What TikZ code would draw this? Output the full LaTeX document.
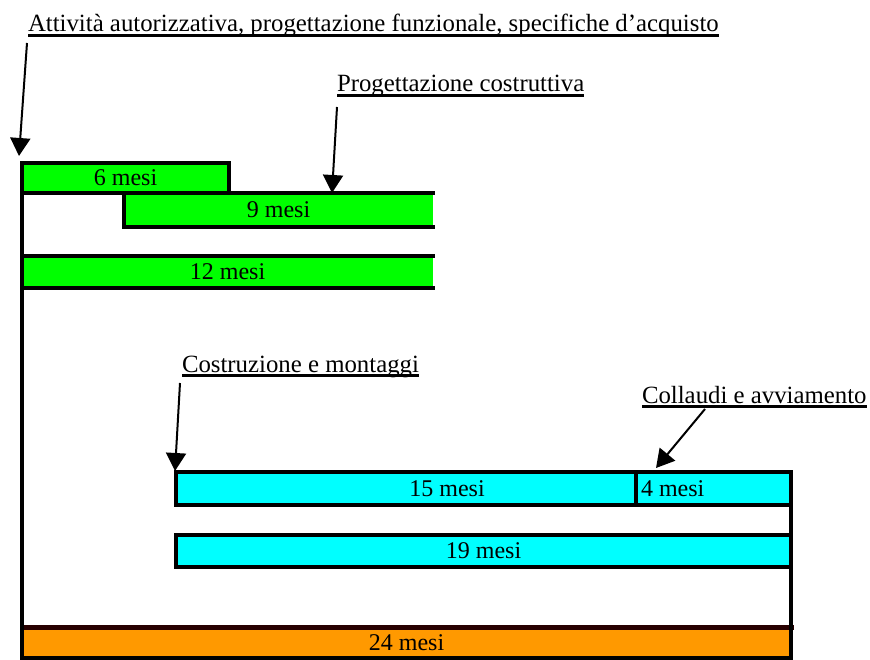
\documentclass[tikz,border=0pt]{standalone}
\usepackage{fontspec}
\setmainfont{Liberation Serif}
\usetikzlibrary{arrows.meta}

\definecolor{barGreen}{RGB}{0,255,0}
\definecolor{barCyan}{RGB}{0,255,255}
\definecolor{barOrange}{RGB}{255,153,0}

\tikzset{
  bar/.style={anchor=north west, inner sep=0pt, outer sep=0pt,
              font=\fontsize{24}{26}\selectfont},
  edge/.style={line width=3.4pt, line cap=rect, black},
  lbl/.style={anchor=base west, inner sep=0pt, outer sep=0pt,
              font=\fontsize{24.8}{28}\selectfont},
  uline/.style={line width=2.6pt, black},
  pointer/.style={line width=2pt, black,
                  -{Triangle[length=18pt,width=20pt]}},
}

\begin{document}
\begin{tikzpicture}[x=1pt,y=-1pt]
\useasboundingbox (0,0) rectangle (870,660);

% ---- phase bars ----
\node[bar, fill=barGreen, minimum width=207, minimum height=30] (sei) at (22,163) {6 mesi};
\node[bar, fill=barGreen, minimum width=309, minimum height=34] (nove) at (124,193) {9 mesi};
\node[bar, fill=barGreen, minimum width=411, minimum height=32] (dodici) at (22,256) {12 mesi};
\node[bar, fill=barCyan, minimum width=460, minimum height=33] (quindici) at (176,472) {};
\node[bar, fill=barCyan, minimum width=155, minimum height=33] (quattro) at (636,472) {};
\node[bar, fill=barCyan, minimum width=615, minimum height=32] (diciannove) at (176,535) {19 mesi};
\node[bar, fill=barOrange, minimum width=769, minimum height=31] (ventiquattro) at (22,627) {24 mesi};

% texts placed off-centre inside the construction bars
\node[bar, anchor=center] (t15) at (447,489) {15 mesi};
\node[bar, anchor=west] (t4) at (641,489) {4 mesi};

% ---- bar outlines ----
\draw[edge] (sei.south west) rectangle (sei.north east);
\draw[edge] (nove.north east) -- (nove.north west) -- (nove.south west) -- (nove.south east);
\draw[edge] (dodici.north east) -- (dodici.north west);
\draw[edge] (dodici.south west) -- (dodici.south east);
\draw[edge] (quindici.south west) rectangle (quindici.north east);
\draw[edge] (quattro.south west) rectangle (quattro.north east);
\draw[edge] (diciannove.south west) rectangle (diciannove.north east);
\draw[edge] (ventiquattro.south west) -- (ventiquattro.south east);
\draw[edge, line width=5pt, draw={rgb,255:red,40;green,0;blue,0}]
  (ventiquattro.north west) -- (ventiquattro.north east);

% overall frame
\draw[edge] (sei.north west) -- (ventiquattro.south west);
\draw[edge] (quattro.north east) -- (ventiquattro.south east);

% ---- phase labels ----
\node[lbl] (lA) at (28,32) {Attività autorizzativa, progettazione funzionale, specifiche d'acquisto};
\node[lbl] (lP) at (337,92) {Progettazione costruttiva};
\node[lbl] (lC) at (182,372) {Costruzione e montaggi};
\node[lbl] (lCo) at (642,403) {Collaudi e avviamento};

\foreach \n in {lA,lP,lC,lCo}
  \draw[uline] ([yshift=-3.5pt]\n.base west) -- ([yshift=-3.5pt]\n.base east);

% ---- pointers ----
\coordinate (sA) at (27,43);   \coordinate (eA) at (19,156);
\coordinate (sP) at (337,107); \coordinate (eP) at (332,193);
\coordinate (sC) at (180,383); \coordinate (eC) at (175,471);
\coordinate (sCo) at (705,409); \coordinate (eCo) at (656,468);

\draw[pointer] (sA) -- (eA);
\draw[pointer] (sP) -- (eP);
\draw[pointer] (sC) -- (eC);
\draw[pointer] (sCo) -- (eCo);
\end{tikzpicture}
\end{document}
